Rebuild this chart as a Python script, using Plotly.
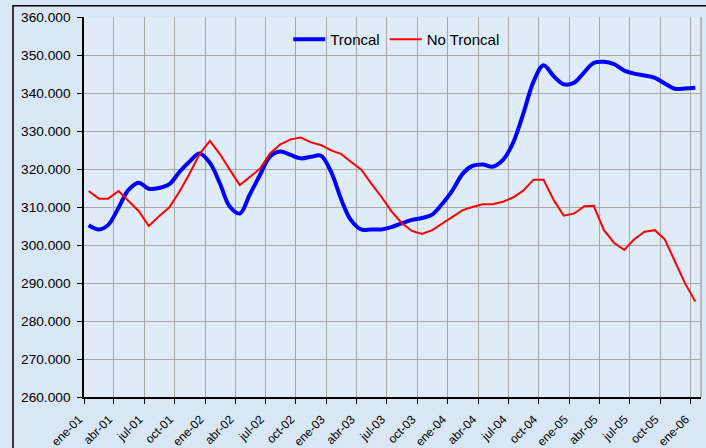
import plotly.graph_objects as go

# ---- data (monthly, ene-01 .. ene-06) ----
start_year = 2001
n_points = 61
troncal = [305.2, 304.1, 305.3, 309.8, 314.5, 316.4, 314.8, 315.0, 316.0, 319.2,
           322.0, 324.1, 321.6, 316.0, 310.2, 308.3, 313.3, 318.5, 323.3, 324.6,
           323.7, 322.8, 323.2, 323.5, 319.2, 311.8, 306.6, 304.1, 304.1, 304.1,
           304.7, 305.7, 306.6, 307.1, 308.0, 310.8, 314.4, 318.8, 320.8, 321.2,
           320.6, 322.4, 326.8, 334.5, 343.0, 347.3, 344.4, 342.3, 342.7, 345.5,
           347.9, 348.2, 347.6, 345.9, 345.1, 344.6, 344.0, 342.5, 341.1, 341.2,
           341.4]
no_troncal = [314.2, 312.2, 312.2, 314.2, 311.6, 308.9, 305.0, 307.6, 309.9, 314.0,
              318.8, 324.0, 327.4, 323.8, 319.9, 315.8, 317.9, 320.1, 324.1, 326.5,
              327.8, 328.3, 327.0, 326.3, 324.9, 323.9, 321.9, 319.9, 316.2, 312.7,
              308.9, 305.8, 303.7, 302.9, 303.9, 305.7, 307.4, 309.2, 310.0, 310.7,
              310.7, 311.4, 312.5, 314.3, 317.2, 317.2, 311.8, 307.7, 308.3, 310.2,
              310.3, 303.9, 300.6, 298.7, 301.5, 303.5, 303.9, 301.5, 295.6, 289.9,
              285.1]
month_abbr = ["ene", "abr", "jul", "oct"]
series_names = ["Troncal", "No Troncal"]
y_ticks = [260000, 270000, 280000, 290000, 300000, 310000, 320000, 330000, 340000, 350000, 360000]

# dates of points (mid-month)
dates = []
for i in range(n_points):
    y = start_year + i // 12
    m = i % 12 + 1
    dates.append(f"{y}-{m:02d}-15")

# quarterly ticks
tick_vals, tick_text = [], []
for q in range(21):
    y = start_year + q // 4
    m = (q % 4) * 3 + 1
    tick_vals.append(f"{y}-{m:02d}-01")
    tick_text.append(f"{month_abbr[q % 4]}-{str(y)[2:]}")

fig = go.Figure()
fig.add_trace(go.Scatter(x=dates, y=[v * 1000 for v in troncal], name=series_names[0],
                         mode="lines", line=dict(color="#0000ff", width=4, shape="spline", smoothing=1)))
fig.add_trace(go.Scatter(x=dates, y=[v * 1000 for v in no_troncal], name=series_names[1],
                         mode="lines", line=dict(color="#ff0000", width=2)))

font = "Liberation Sans, Arial, sans-serif"
fig.update_layout(
    width=706, height=448,
    margin=dict(l=84, r=5, t=17, b=51, autoexpand=False),
    paper_bgcolor="#d9e7f4",
    plot_bgcolor="#dfebf7",
    separators=",.",
    font=dict(family=font, color="black"),
    showlegend=True,
    legend=dict(orientation="h", x=0.331, xanchor="left", y=0.941, yanchor="middle",
                bgcolor="rgba(0,0,0,0)", font=dict(size=15, family=font),
                itemwidth=32),
    xaxis=dict(type="date", range=["2001-01-01", "2006-02-01"],
               tickvals=tick_vals, ticktext=tick_text, tickangle=-45,
               tickfont=dict(size=12), ticks="outside", ticklen=5, tickcolor="black",
               ticklabelstandoff=4, ticklabelshift=-5,
               showline=True, linecolor="black", linewidth=1.5,
               showgrid=True, gridcolor="#a8a8a8", gridwidth=1, zeroline=False,
               automargin=False),
    yaxis=dict(range=[260000, 360000], tickvals=y_ticks, tickformat=",.0f",
               tickfont=dict(size=13.7), ticks="outside", ticklen=5, tickcolor="black",
               ticklabelstandoff=4,
               showline=True, linecolor="black", linewidth=1.5,
               showgrid=True, gridcolor="#a8a8a8", gridwidth=1, zeroline=False,
               automargin=False),
    shapes=[
        dict(type="line", xref="paper", yref="paper", x0=1, x1=1, y0=0, y1=1,
             line=dict(color="#a8a8a8", width=1.5)),
        dict(type="rect", xref="paper", yref="paper", x0=-0.1151, x1=1.05, y0=-0.5, y1=1.0295,
             line=dict(color="black", width=1.5), layer="above"),
    ],
)

fig.write_html("out.html", config={"displayModeBar": False},
               post_script="document.body.style.margin='0px';")
